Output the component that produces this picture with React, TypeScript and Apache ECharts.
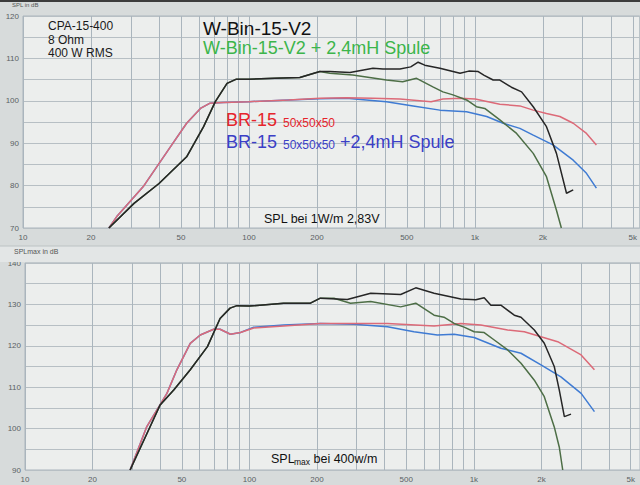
import React, { useEffect, useRef } from "react";
import * as echarts from "echarts";

// grid frequencies (log grid) and labelled frequencies
const gridFreqs = [10, 20, 30, 40, 50, 60, 70, 80, 90, 100, 200, 300, 400, 500, 600, 700, 800, 900, 1000, 2000, 3000, 4000, 5000];
const freqLabels = [10, 20, 50, 100, 200, 500, 1000, 2000, 5000];

// ---- top chart: SPL bei 1W/m 2,83V ----
const topBlackF = [24, 31, 40, 53, 63, 71, 80, 88, 100, 130, 168, 206, 228, 280, 354, 392, 466, 520, 561, 600, 700, 860, 940, 1035, 1100, 1205, 1290, 1451, 1610, 1813, 2075, 2297, 2545, 2725];
const topBlackDb = [70, 75.8, 80.5, 86.8, 93.9, 99.8, 104.1, 105.1, 105.1, 105.3, 105.5, 106.9, 106.9, 106.7, 107.7, 107.5, 107.5, 108, 109.1, 108.4, 107.7, 106.5, 107, 106.9, 106, 104.9, 104.9, 103.2, 102.1, 98.6, 93.9, 87.6, 78.2, 79];

const topGreenF = [24, 31, 40, 53, 63, 71, 80, 88, 100, 130, 168, 206, 228, 288, 406, 479, 552, 652, 722, 800, 919, 1016, 1106, 1290, 1530, 1813, 2075, 2297, 2415];
const topGreenDb = [70, 75.8, 80.5, 86.8, 93.9, 99.8, 104.1, 105.1, 105.1, 105.3, 105.5, 106.9, 106.5, 106.1, 104.9, 104.5, 105.3, 103.3, 102.1, 101.4, 100.2, 98.6, 98.2, 95.5, 92.3, 87.6, 82.1, 74.2, 70];

const topRedF = [24, 26, 34, 45, 53, 61, 67, 77, 100, 150, 206, 270, 354, 466, 640, 722, 860, 1003, 1290, 1582, 1813, 2075, 2378, 2725, 3119, 3451];
const topRedDb = [70, 72.7, 79.7, 89.2, 94.7, 98.2, 99.4, 99.6, 99.8, 100.2, 100.6, 100.7, 100.6, 100.4, 99.8, 100.4, 100.6, 100.4, 99.2, 98.8, 97.8, 97, 96.3, 94.7, 92.3, 89.6];

const topBlueF = [24, 26, 34, 45, 53, 61, 67, 77, 100, 150, 206, 270, 406, 533, 700, 919, 1128, 1334, 1582, 1813, 2218, 2725, 3119, 3451];
const topBlueDb = [70, 72.7, 79.7, 89.2, 94.7, 98.2, 99.4, 99.6, 99.8, 100.2, 100.5, 100.6, 99.8, 98.8, 97.8, 97.4, 96.3, 94.7, 93.5, 91.9, 89.6, 86, 82.9, 79.4];

// ---- bottom chart: SPLmax bei 400w/m ----
const botBlackF = [29.4, 40, 46, 54.5, 65, 74, 82, 88, 100, 142, 187, 207, 273, 347, 472, 551, 665, 875, 1020, 1112, 1191, 1319, 1514, 1622, 1860, 2060, 2282, 2403, 2531, 2710];
const botBlackDb = [90, 105.7, 109.3, 114.2, 119.8, 126.6, 129.1, 129.7, 129.6, 130.3, 130.3, 131.5, 131.2, 132.7, 132.4, 134, 132.7, 131.3, 131.1, 131.6, 129.8, 129.8, 127.4, 126.9, 123.8, 120.6, 115, 109.3, 102.9, 103.5];

const botGreenF = [29.4, 40, 46, 54.5, 65, 74, 82, 88, 100, 142, 187, 207, 238, 282, 347, 472, 551, 665, 736, 817, 905, 1003, 1112, 1233, 1415, 1622, 1860, 2060, 2282, 2403, 2489];
const botGreenDb = [90, 105.7, 109.3, 114.2, 119.8, 126.6, 129.1, 129.7, 129.6, 130.3, 130.3, 131.5, 131.5, 130.3, 130.7, 129.4, 130.3, 127.4, 126.9, 125.4, 124.5, 123.4, 123.2, 121.4, 119, 115.8, 111.7, 107.7, 100.4, 95.5, 90];

const botRedF = [29.4, 34.9, 42.9, 47.5, 54.5, 60.4, 69.3, 74, 82.3, 91.2, 104.5, 142, 207, 412, 665, 875, 1074, 1415, 1678, 1991, 2364, 3006, 3446];
const botRedDb = [90, 100.5, 108.5, 114.2, 120.6, 122.6, 124, 124, 122.8, 123.2, 124.3, 124.8, 125.4, 125.4, 124.8, 125.4, 125, 123.8, 123.4, 122.2, 121, 117.8, 114.2];

const botBlueF = [29.4, 34.9, 42.9, 47.5, 54.5, 60.4, 69.3, 74, 82.3, 91.2, 104.5, 142, 207, 292, 412, 541, 688, 817, 1003, 1319, 1622, 1991, 2443, 3006, 3446];
const botBlueDb = [90, 100.5, 108.5, 114.2, 120.6, 122.6, 124, 124, 122.8, 123.2, 124.5, 125, 125.4, 125.2, 124.6, 123.4, 122.6, 122.8, 122, 119.4, 118.2, 115.4, 112.5, 108.5, 104.1];

const COL_BLACK = "#262626";
const COL_GREEN = "#4d6e46";
const COL_RED = "#dc6a78";
const COL_BLUE = "#3f7bd3";
const FONT = '"Liberation Sans", Arial, sans-serif';

const zip = (f: number[], d: number[]) => f.map((v, i) => [v, d[i]]);

const fmtFreq = (v: number) => (v >= 1000 ? `${Math.round(v / 1000)}k` : `${Math.round(v)}`);

function App() {
  const ref = useRef<HTMLDivElement>(null);
  useEffect(() => {
    const chart = echarts.init(ref.current!, null, { renderer: "svg" });
    const xAxisBase = (gridIndex: number, max: number) => ({
      type: "log",
      logBase: 10,
      gridIndex,
      min: 10,
      max,
      axisLine: { show: false },
      axisTick: { show: false, customValues: gridFreqs },
      splitLine: { show: true, lineStyle: { color: "#aab5bd", width: 1 } },
      axisLabel: {
        customValues: freqLabels,
        formatter: (v: number) => fmtFreq(v),
        color: "#5a5f63",
        fontSize: 8,
        fontFamily: FONT,
        margin: 5,
      },
    });
    const yAxisBase = (gridIndex: number, min: number, max: number) => ({
      type: "value",
      gridIndex,
      min,
      max,
      interval: 5,
      axisLine: { show: false },
      axisTick: { show: false },
      splitLine: { show: true, lineStyle: { color: "#b7bfc4", width: 1 } },
      axisLabel: {
        formatter: (v: number) => (v % 10 === 0 ? `${v}` : ""),
        color: "#5a5f63",
        fontSize: 8,
        fontFamily: FONT,
        margin: 4,
      },
    });
    const line = (name: string, xi: number, data: number[][], color: string, z: number) => ({
      type: "line",
      name,
      xAxisIndex: xi,
      yAxisIndex: xi,
      data,
      showSymbol: false,
      symbol: "none",
      smooth: false,
      z,
      lineStyle: { color, width: 1.5 },
    });
    const txt = (text: string, x: number, y: number, size: number, fill: string, extra: any = {}) => ({
      type: "text",
      x,
      y,
      z: 100,
      style: { text, fill, font: `${size}px ${FONT}`, verticalAlign: "top", ...extra },
    });

    chart.setOption({
      animation: false,
      backgroundColor: "#d7dbdb",
      grid: [
        { left: 23, right: 0, top: 16, bottom: 257, show: true, backgroundColor: "#eceeed", borderColor: "#aab5bd", borderWidth: 1 },
        { left: 25, right: 0, top: 263, bottom: 15, show: true, backgroundColor: "#eceeed", borderColor: "#aab5bd", borderWidth: 1 },
      ],
      xAxis: [xAxisBase(0, 5370), xAxisBase(1, 5500)],
      yAxis: [yAxisBase(0, 70, 120), yAxisBase(1, 90, 140)],
      series: [
        line("BR-15 50x50x50 +2,4mH Spule", 0, zip(topBlueF, topBlueDb), COL_BLUE, 2),
        line("BR-15 50x50x50", 0, zip(topRedF, topRedDb), COL_RED, 3),
        line("W-Bin-15-V2 + 2,4mH Spule", 0, zip(topGreenF, topGreenDb), COL_GREEN, 4),
        line("W-Bin-15-V2", 0, zip(topBlackF, topBlackDb), COL_BLACK, 5),
        line("BR-15 50x50x50 +2,4mH Spule (max)", 1, zip(botBlueF, botBlueDb), COL_BLUE, 2),
        line("BR-15 50x50x50 (max)", 1, zip(botRedF, botRedDb), COL_RED, 3),
        line("W-Bin-15-V2 + 2,4mH Spule (max)", 1, zip(botGreenF, botGreenDb), COL_GREEN, 4),
        line("W-Bin-15-V2 (max)", 1, zip(botBlackF, botBlackDb), COL_BLACK, 5),
      ],
      graphic: [
        { type: "rect", shape: { x: 0, y: 0, width: 640, height: 2 }, style: { fill: "#3c3c3c" }, z: 50 },
        { type: "rect", shape: { x: 0, y: 246, width: 640, height: 16 }, style: { fill: "#e3e6e6" }, z: 1 },
        { type: "line", shape: { x1: 0, y1: 246, x2: 640, y2: 246 }, style: { stroke: "#bcc2c3", lineWidth: 1 }, z: 2 },
        txt("SPL in dB", 12, 2, 6, "#555"),
        txt("SPLmax in dB", 14, 248, 7, "#555"),
        txt("CPA-15-400", 48, 20, 12, "#1a1a1a"),
        txt("8 Ohm", 48, 33.5, 12, "#1a1a1a"),
        txt("400 W RMS", 48, 47, 12, "#1a1a1a"),
        txt("W-Bin-15-V2", 203, 19, 19, "#111"),
        txt("W-Bin-15-V2 + 2,4mH Spule", 203, 39, 18, "#3cb54b"),
        txt("BR-15", 226, 111, 18, "#e6242c"),
        txt("50x50x50", 283, 117, 12, "#e6242c"),
        txt("BR-15", 226, 133, 18, "#3b3fc6"),
        txt("50x50x50", 283, 139, 12, "#3b3fc6"),
        txt("+2,4mH Spule", 340, 133, 18, "#3b3fc6"),
        txt("SPL bei 1W/m 2,83V", 264, 212, 12.5, "#111"),
        txt("SPL", 271, 452, 12.5, "#111"),
        txt("max", 294, 457, 8.5, "#111"),
        txt(" bei 400w/m", 310, 452, 12.5, "#111"),
      ],
    });
    return () => chart.dispose();
  }, []);
  return <div ref={ref} style={{ position: "absolute", left: 0, top: 0, width: 640, height: 485 }} />;
}

export default App;
